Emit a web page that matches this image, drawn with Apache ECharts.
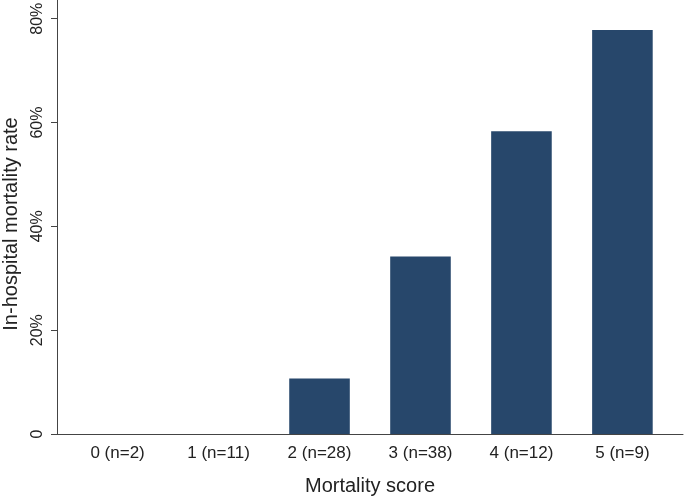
<!DOCTYPE html>
<html>
<head>
<meta charset="utf-8">
<script src="https://cdn.jsdelivr.net/npm/echarts@6/dist/echarts.min.js"></script>
<style>
html,body{margin:0;padding:0;background:#fff;}
#chart{width:685px;height:497px;}
</style>
</head>
<body>
<div id="chart"></div>
<script>
const categories = ['0 (n=2)', '1 (n=11)', '2 (n=28)', '3 (n=38)', '4 (n=12)', '5 (n=9)'];
const scores = [0, 1, 2, 3, 4, 5];
const mortalityRate = [0, 0, 10.7, 34.2, 58.3, 77.8];
const yTicks = [0, 20, 40, 60, 80];
const yTickLabels = ['0', '20%', '40%', '60%', '80%'];

const font = '"Liberation Sans", Arial, Helvetica, sans-serif';
const chart = echarts.init(document.getElementById('chart'));
chart.setOption({
  animation: false,
  backgroundColor: '#fff',
  grid: { left: 57, right: 2, top: 0, bottom: 63, containLabel: false, outerBoundsMode: 'none' },
  xAxis: {
    type: 'value',
    min: -0.6,
    max: 5.6,
    name: 'Mortality score',
    nameLocation: 'middle',
    nameGap: 42,
    nameTextStyle: { fontFamily: font, fontSize: 20, color: '#222' },
    axisLine: { show: true, onZero: false, lineStyle: { color: '#444', width: 1 } },
    axisTick: { show: false },
    splitLine: { show: false },
    axisLabel: {
      customValues: scores,
      formatter: v => categories[Math.round(v)],
      fontFamily: font, fontSize: 17, color: '#222', margin: 11
    }
  },
  yAxis: {
    type: 'value',
    min: 0,
    max: 83.6,
    name: 'In-hospital mortality rate',
    nameLocation: 'middle',
    nameRotate: 90,
    nameGap: 36,
    nameTextStyle: { fontFamily: font, fontSize: 20, color: '#222', padding: [0, 14, 0, 0] },
    axisLine: { show: true, onZero: false, lineStyle: { color: '#444', width: 1 } },
    axisTick: { show: true, customValues: yTicks, length: 6, lineStyle: { color: '#444' } },
    splitLine: { show: false },
    axisLabel: {
      customValues: yTicks,
      rotate: 90,
      formatter: v => yTickLabels[yTicks.indexOf(Math.round(v))],
      fontFamily: font, fontSize: 16, color: '#222', margin: 11
    }
  },
  series: [{
    type: 'bar',
    data: scores.map((s, i) => [s, mortalityRate[i]]),
    barWidth: '60%',
    itemStyle: { color: '#27476b' }
  }]
});
</script>
</body>
</html>
